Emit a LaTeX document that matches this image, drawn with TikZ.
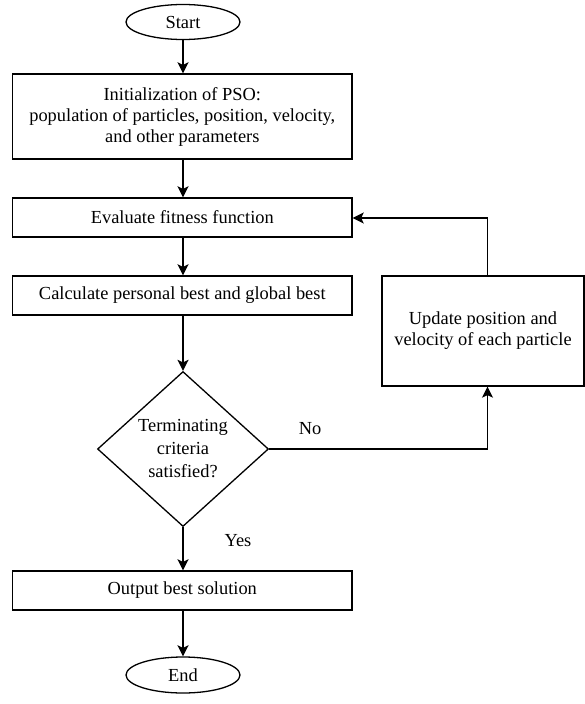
\documentclass[tikz,border=0pt]{standalone}
\usepackage{fontspec}
\setmainfont{Liberation Serif}
\usetikzlibrary{shapes.geometric,arrows.meta}
\begin{document}
\begin{tikzpicture}[x=1pt,y=-1pt,
  font=\fontsize{18.4}{21}\selectfont,
  base/.style={draw=black, line width=1.3pt, inner sep=0pt, align=center},
  procbox/.style={base, rectangle},
  term/.style={base, ellipse},
  decide/.style={base, diamond},
  flow/.style={line width=1.9pt, draw=black, -{Stealth[length=11pt,width=11pt,inset=2.5pt]}},
  loop/.style={line width=1.3pt, draw=black, -{Stealth[length=11pt,width=11pt,inset=2.5pt]}},
  lbl/.style={inner sep=0pt}]
\useasboundingbox (0,0) rectangle (585,704);
\node[term, minimum width=114pt, minimum height=35pt] (start) at (183,22) {Start};
\node[procbox, minimum width=339.5pt, minimum height=85pt] (init) at (182.3,116.5)
  {Initialization of PSO:\\population of particles, position, velocity,\\and other parameters};
\node[procbox, minimum width=339.5pt, minimum height=39pt] (eval) at (182.3,217.5) {Evaluate fitness function};
\node[procbox, minimum width=339.5pt, minimum height=39pt] (calc) at (182.3,295.5) {Calculate personal best and global best};
\node[decide, minimum width=171pt, minimum height=155pt, aspect=1.1,
  font=\fontsize{18.4}{23}\selectfont] (dec) at (183,449)
  {Terminating\\criteria\\satisfied?};
\node[procbox, minimum width=202pt, minimum height=110pt] (upd) at (483,331)
  {Update position and\\velocity of each particle};
\node[procbox, minimum width=339.5pt, minimum height=39pt] (out) at (182.3,590.5) {Output best solution};
\node[term, minimum width=114pt, minimum height=36pt] (end) at (183,675) {End};
\node[lbl] (no) at (310,429) {No};
\node[lbl] (yes) at (238,541) {Yes};
\coordinate (c1) at (487.5,449);
\coordinate (c2) at (487.5,218);
\draw[flow] (start) -- (start |- init.north);
\draw[flow] (init.south -| start) -- (eval.north -| start);
\draw[flow] (eval.south -| start) -- (calc.north -| start);
\draw[flow] (calc.south -| start) -- (dec.north);
\draw[flow] (dec.south) -- (out.north -| start);
\draw[flow] (out.south -| start) -- (end);
\draw[loop] (dec.east) -- (dec.east -| c1) -- (c1 |- upd.south);
\draw[loop] (c1 |- upd.north) -- (c2) -- (eval.east |- c2);
\end{tikzpicture}
\end{document}
